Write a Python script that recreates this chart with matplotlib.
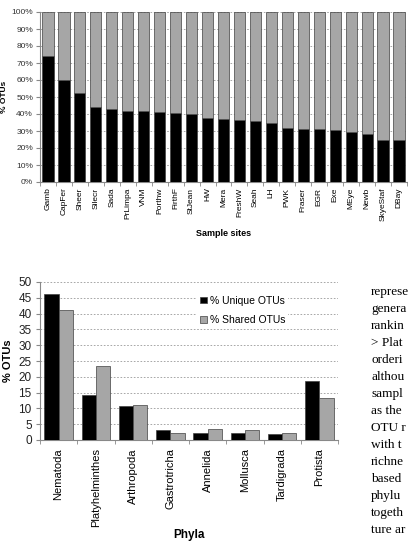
import numpy as np
import matplotlib
matplotlib.use("Agg")
import matplotlib.pyplot as plt
from matplotlib.ticker import FixedLocator, PercentFormatter

plt.rcParams['font.family'] = ['Liberation Sans', 'DejaVu Sans']

# top chart: share of unique OTUs per sample site
sites = ['Gamb', 'CapFer', 'Sheer', 'Silecr', 'Sada', 'PrLimpa', 'VNM', 'Porthw',
         'FirthF', 'StJean', 'HW', 'Mera', 'FreshW', 'Seah', 'LH', 'PWK', 'Fraser',
         'EGR', 'Exe', 'MEye', 'Newb', 'SkyeStaf', 'DBay']
unique_pct = [74.1, 60.0, 52.5, 43.9, 42.9, 41.9, 41.8, 41.2, 40.8, 39.8, 37.6,
              37.0, 36.3, 35.7, 34.5, 31.8, 31.4, 31.2, 30.4, 29.4, 28.0, 24.7, 24.5]

# bottom chart: unique vs shared OTUs per phylum
phyla = ['Nematoda', 'Platyhelminthes', 'Arthropoda', 'Gastrotricha', 'Annelida',
         'Mollusca', 'Tardigrada', 'Protista']
pct_unique = [46.1, 14.2, 10.9, 3.1, 2.3, 2.3, 1.8, 18.6]
pct_shared = [41.1, 23.4, 11.2, 2.3, 3.5, 3.2, 2.3, 13.3]

# running text of the page, as much as is visible at the right edge
page_lines = ['represe', 'genera', 'rankin', '> Plat', 'orderi', 'althou', 'sampl',
              'as the', 'OTU r', 'with t', 'richne', 'based', 'phylu', 'togeth', 'ture ar']

W, H = 408, 545
fig = plt.figure(figsize=(W / 100, H / 100), dpi=100)

GREY = '#a6a6a6'
EDGE = '#404040'
AXC = '#888888'

# ---- top chart
ax1 = fig.add_axes([40 / W, 1 - 182 / H, 367 / W, 170 / H])
x = np.arange(len(sites))
shared_pct = [100 - u for u in unique_pct]
ax1.bar(x, unique_pct, width=0.7, color='black', edgecolor=EDGE, linewidth=0.5, zorder=3)
ax1.bar(x, shared_pct, bottom=unique_pct, width=0.7, color=GREY, edgecolor=EDGE,
        linewidth=0.5, zorder=3)
ax1.set_xlim(-0.5, len(sites) - 0.5)
ax1.set_ylim(0, 100)
ax1.set_yticks(np.arange(0, 101, 10))
ax1.yaxis.set_major_formatter(PercentFormatter(decimals=0))
ax1.grid(axis='y', linestyle=(0, (2, 2)), color='#999999', linewidth=0.6, zorder=0)
ax1.set_xticks(x)
ax1.set_xticklabels(sites, rotation=90, fontsize=6)
ax1.xaxis.set_minor_locator(FixedLocator(np.arange(-0.5, len(sites), 1)))
ax1.tick_params(axis='x', which='major', length=0, pad=4)
ax1.tick_params(axis='x', which='minor', length=3, color=AXC)
ax1.tick_params(axis='y', labelsize=6, length=3, color=AXC, pad=2, labelcolor='#333333')
for s in ['top', 'right']:
    ax1.spines[s].set_visible(False)
for s in ['left', 'bottom']:
    ax1.spines[s].set_color(AXC)
ax1.set_ylabel('% OTUs', fontsize=6, fontweight='bold')
ax1.yaxis.set_label_coords(-32 / 367, 0.5)
ax1.set_xlabel('Sample sites', fontsize=6.5, fontweight='bold', labelpad=6)

# ---- bottom chart
ax2 = fig.add_axes([40 / W, 1 - 440 / H, 298 / W, 158 / H])
xp = np.arange(len(phyla))
bw = 0.38
ax2.bar(xp - bw / 2, pct_unique, width=bw, color='black', edgecolor=EDGE,
        linewidth=0.5, zorder=3, label='% Unique OTUs')
ax2.bar(xp + bw / 2, pct_shared, width=bw, color=GREY, edgecolor=EDGE,
        linewidth=0.5, zorder=3, label='% Shared OTUs')
ax2.set_xlim(-0.5, len(phyla) - 0.5)
ax2.set_ylim(0, 50)
ax2.set_yticks(np.arange(0, 51, 5))
ax2.grid(axis='y', linestyle=(0, (2, 2)), color='#999999', linewidth=0.6, zorder=0)
ax2.set_xticks(xp)
ax2.set_xticklabels(phyla, rotation=90, fontsize=8)
ax2.xaxis.set_minor_locator(FixedLocator(np.arange(-0.5, len(phyla), 1)))
ax2.tick_params(axis='x', which='major', length=0, pad=6)
ax2.tick_params(axis='x', which='minor', length=3, color=AXC)
ax2.tick_params(axis='y', labelsize=8.5, length=3, color=AXC, pad=3, labelcolor='#222222')
for s in ['top', 'right']:
    ax2.spines[s].set_visible(False)
for s in ['left', 'bottom']:
    ax2.spines[s].set_color(AXC)
ax2.set_ylabel('% OTUs', fontsize=8, fontweight='bold')
ax2.yaxis.set_label_coords(-27 / 298, 0.5)
ax2.set_xlabel('Phyla', fontsize=8.5, fontweight='bold', labelpad=1)
leg = ax2.legend(loc='upper left', bbox_to_anchor=(0.51, 0.965), fontsize=7.5,
                 frameon=True, framealpha=1, edgecolor='none', fancybox=False,
                 handlelength=0.6, handleheight=0.6, handletextpad=0.3,
                 labelspacing=0.9, borderpad=0.3)

# ---- page text on the right
for i, line in enumerate(page_lines):
    fig.text(371 / W, 1 - (292 + 17 * i) / H, line, fontsize=9.5,
             family=['Liberation Serif', 'DejaVu Serif'], va='center', ha='left')

fig.savefig('out.png', dpi=100)
